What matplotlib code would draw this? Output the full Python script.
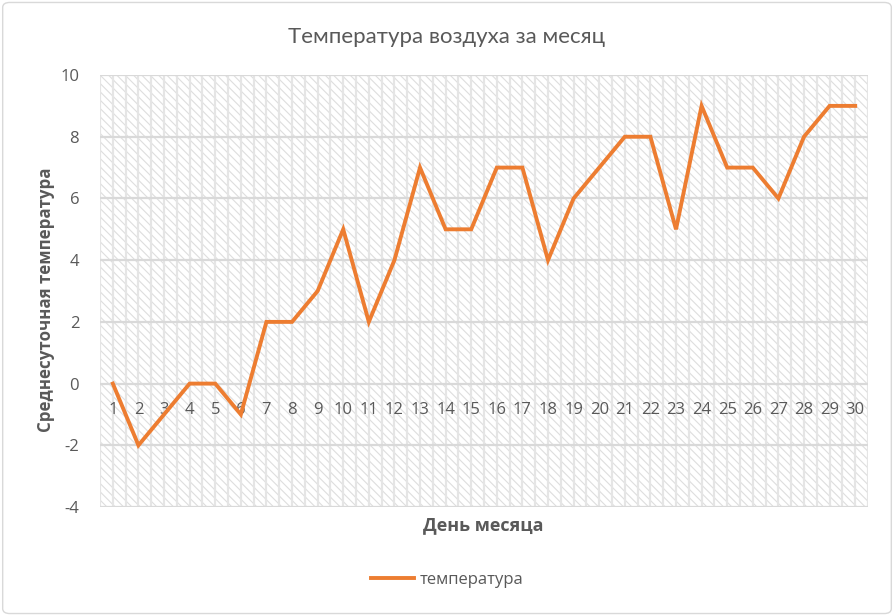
import matplotlib
matplotlib.use("Agg")
import matplotlib.pyplot as plt
import matplotlib.patches as mpatches
import numpy as np

days = list(range(1, 31))
temps = [0, -2, -1, 0, 0, -1, 2, 2, 3, 5, 2, 4, 7, 5, 5, 7, 7, 4, 6, 7,
         8, 8, 5, 9, 7, 7, 6, 8, 9, 9]
title = "Температура воздуха за месяц"
xlabel = "День месяца"
ylabel = "Среднесуточная температура"
series_name = "температура"
yticks = [-4, -2, 0, 2, 4, 6, 8, 10]

plt.rcParams['hatch.color'] = '#dedede'
plt.rcParams['hatch.linewidth'] = 0.8
plt.rcParams['font.family'] = ['Open Sans', 'DejaVu Sans']

fig = plt.figure(figsize=(8.94, 6.16), dpi=100)
fig.patch.set_facecolor('white')
border = mpatches.FancyBboxPatch((0.003, 0.004), 0.994, 0.992,
                                 boxstyle="round,pad=0,rounding_size=0.008",
                                 transform=fig.transFigure, facecolor='white',
                                 edgecolor='#d9d9d9', linewidth=1.0, zorder=-10)
fig.patches.append(border)

ax = fig.add_axes([0.1119, 0.1769, 0.9709 - 0.1119, 0.8782 - 0.1769])
ax.patch.set_facecolor('white')
ax.patch.set_hatch('\\\\\\\\')
ax.patch.set_edgecolor('#dedede')
ax.patch.set_linewidth(0)

x = np.arange(len(days)) + 1
ax.set_xlim(0.5, len(days) + 0.5)
ax.set_ylim(-4, 10)
ax.set_yticks(yticks)
ax.set_yticklabels([str(v) for v in yticks])

# vertical pattern lines at half categories
for xv in np.arange(0.5, len(days) + 0.75, 0.5):
    ax.axvline(xv, color='#e5e5e5', lw=1.6, zorder=0.5)
for yv in yticks:
    ax.axhline(yv, color='#d9d9d9', lw=1.6, zorder=0.6)

line, = ax.plot(x, temps, color='#ED7D31', lw=2.8, solid_joinstyle='miter',
                label=series_name, zorder=3)

ax.set_xticks(x)
ax.set_xticklabels([str(d) for d in days])
ax.spines['bottom'].set_position(('data', 0))
for s in ax.spines.values():
    s.set_visible(False)
ax.tick_params(axis='x', length=0, pad=13, labelsize=12, labelcolor='#595959')
ax.tick_params(axis='y', length=0, pad=15, labelsize=12, labelcolor='#595959')
for lab in ax.get_xticklabels():
    lab.set_zorder(5)

fig.text(0.5, 1 - 37 / 616, title, ha='center', va='center', fontsize=16,
         color='#595959', family=['Lato', 'DejaVu Sans'])
fig.text(0.5405, 1 - 525 / 616, xlabel, ha='center', va='center', fontsize=13,
         color='#595959', fontweight='bold')
fig.text(46 / 894, 1 - 300 / 616, ylabel, ha='center', va='center', fontsize=12.2,
         color='#595959', fontweight='bold', rotation=90)

leg = fig.legend(handles=[line], loc='center',
                 bbox_to_anchor=(0.5, 1 - 580 / 616), frameon=False,
                 fontsize=12, handlelength=2.6, handletextpad=0.3)
for t in leg.get_texts():
    t.set_color('#595959')

fig.savefig('out.png', dpi=100, facecolor='white')
